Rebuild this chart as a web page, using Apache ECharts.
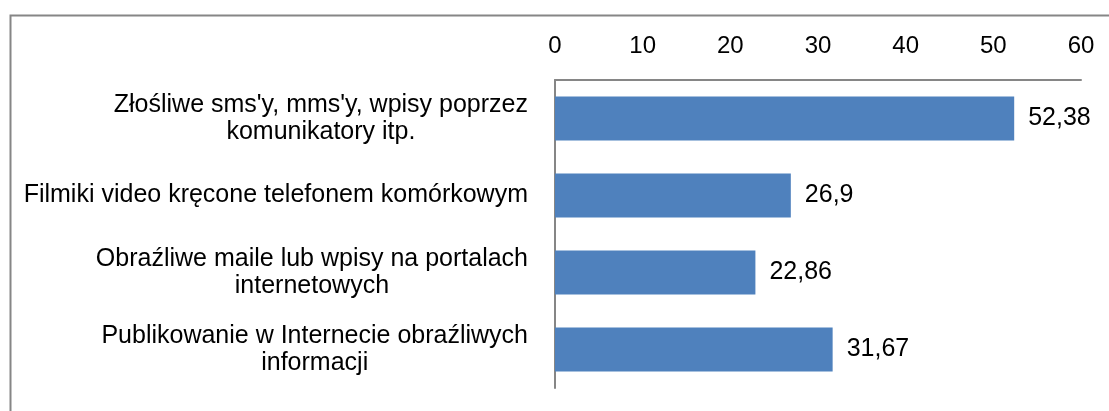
<!DOCTYPE html>
<html>
<head>
<meta charset="utf-8">
<script src="https://cdn.jsdelivr.net/npm/echarts@6/dist/echarts.min.js"></script>
<style>
html,body{margin:0;padding:0;background:#fff;}
#chart{width:1109px;height:411px;}
</style>
</head>
<body>
<div id="chart"></div>
<script>
var categories = [
  "Złośliwe sms'y, mms'y, wpisy poprzez\nkomunikatory itp.",
  "Filmiki video kręcone telefonem komórkowym",
  "Obraźliwe maile lub wpisy na portalach\ninternetowych",
  "Publikowanie w Internecie obraźliwych\ninformacji"
];
var values = [52.38, 26.9, 22.86, 31.67];
var axisMin = 0, axisMax = 60, axisStep = 10;

var FONT = "'Liberation Sans', Arial, sans-serif";
var chart = echarts.init(document.getElementById('chart'), null, {renderer: 'canvas'});
chart.setOption({
  animation: false,
  backgroundColor: '#ffffff',
  graphic: [{
    type: 'rect',
    left: 8, top: 13,
    shape: {width: 1200, height: 500},
    style: {fill: 'none', stroke: '#868686', lineWidth: 2},
    silent: true
  }],
  grid: {left: 555, right: 28, top: 80, bottom: 23},
  xAxis: {
    type: 'value',
    position: 'top',
    min: axisMin, max: axisMax, interval: axisStep,
    axisLine: {show: true, lineStyle: {color: '#868686', width: 2}},
    axisTick: {show: false},
    splitLine: {show: false},
    axisLabel: {
      color: '#000', fontFamily: FONT, fontSize: 24, margin: 22,
      formatter: function (v) { return String(v); }
    }
  },
  yAxis: {
    type: 'category',
    inverse: true,
    data: categories,
    axisLine: {show: true, lineStyle: {color: '#868686', width: 2}},
    axisTick: {show: false},
    axisLabel: {
      color: '#000', fontFamily: FONT, fontSize: 25, margin: 27,
      align: 'right',
      formatter: function (v) {
        return v.split('\n').map(function (l) { return '{c|' + l + '}'; }).join('\n');
      },
      rich: {
        c: {align: 'center', color: '#000', fontFamily: FONT, fontSize: 25, lineHeight: 27}
      }
    }
  },
  series: [{
    type: 'bar',
    data: values,
    barWidth: 44,
    itemStyle: {color: '#4F81BD'},
    label: {
      show: true, position: 'right', distance: 14,
      color: '#000', fontFamily: FONT, fontSize: 25,
      formatter: function (p) { return String(p.value).replace('.', ','); }
    }
  }]
});
</script>
</body>
</html>
